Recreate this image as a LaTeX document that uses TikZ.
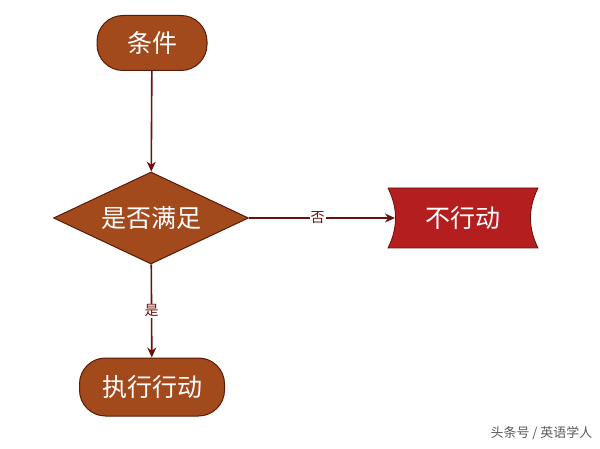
\documentclass[tikz,border=0pt]{standalone}
\usepackage{fontspec}
\newfontfamily\cjk{Noto Sans CJK SC}
\newfontfamily\cjks{Noto Sans CJK SC}
\usetikzlibrary{shapes.geometric,arrows.meta}
\definecolor{brn}{HTML}{A34A1C}
\definecolor{brd}{HTML}{5A1A08}
\definecolor{redb}{HTML}{B41E1E}
\definecolor{arr}{HTML}{6B1010}
\tikzset{
 big/.style={text=white,font=\cjk\fontsize{25}{28}\selectfont},
 box/.style={big,rounded corners=26pt,fill=brn,draw=brd,line width=1pt,inner sep=0pt},
 conn/.style={arr,line width=1.6pt,-{Stealth[length=10pt,width=9pt]}},
 lbl/.style={fill=white,text=arr,font=\cjk\fontsize{14}{16}\selectfont,inner sep=1pt}
}
\begin{document}
\begin{tikzpicture}[x=1pt,y=-1pt]
\useasboundingbox (0,0) rectangle (600,449);
\node[box,minimum width=110pt,minimum height=55pt] (c) at (152,43) {条件};
\node[diamond,fill=brn,draw=brd,line width=1pt,minimum width=195pt,minimum height=92pt,inner sep=0pt,aspect=2.1] (d) at (151,218) {};
\node[big] at (d.center) {是否满足};
\node[box,minimum width=145pt,minimum height=58pt] (e) at (152,387) {执行行动};
\fill[redb,draw=arr,line width=0.8pt] (388,188) -- (538,188) .. controls (528,208) and (528,228) .. (538,248) -- (388,248) .. controls (398,228) and (398,208) .. (388,188);
\node[big] (n) at (463,218) {不行动};
\coordinate (nl) at (395,218);
\draw[conn] (c) -- (d);
\draw[conn] (d) -- node[lbl,pos=0.5]{是} (e);
\draw[conn] (d.east) -- node[lbl,pos=0.47]{否} (nl);
\node[text=gray!70!black,font=\cjk\fontsize{13}{15}\selectfont,anchor=east] (w) at (596,433) {头条号 / 英语学人};
\end{tikzpicture}
\end{document}
